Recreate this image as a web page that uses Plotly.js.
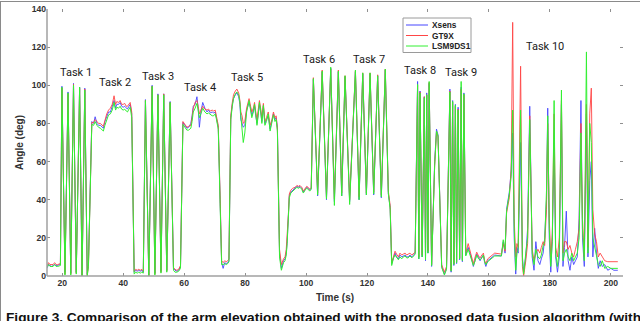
<!DOCTYPE html>
<html><head><meta charset="utf-8">
<script src="https://cdn.plot.ly/plotly-3.0.1.min.js"></script>
<style>html,body{margin:0;padding:0;background:#fff;overflow:hidden}#chart{width:640px;height:321px}</style>
</head><body><div id="chart"></div>
<script>
// Time axis (s)
const time = [
 15, 15.5, 16, 16.5, 17, 17.5, 18, 18.5, 19, 19.4,
 19.9, 20.9, 21.9, 22.8, 23.7, 24.6, 25.7, 26.5, 27.4, 28.2, 28.6, 29.7,
 30.3, 30.8, 31.4, 31.9, 32.5, 33, 33.5, 34, 34.6, 35.2, 35.8, 36.4, 37, 37.5, 37.9, 38.5, 39, 39.5, 40, 40.5, 41, 41.4, 41.9, 42.3, 42.8, 43.6,
 44.1, 44.6, 45.1, 45.6, 46.1, 46.6,
 47.3, 48.4, 49.5, 50.4, 51.4, 52.4, 53.3, 54.3, 55.4, 56.5, 57, 57.6, 58.2, 58.8, 59.6,
 60.3, 60.9, 61.5, 62.2, 62.6, 63, 63.6, 64.2, 64.6, 65, 65.5, 66.1, 66.8, 67.5, 68, 68.6, 69.2, 69.7, 70.2, 70.5, 71.2, 71.8, 72.3,
 72.8, 73.3, 73.8, 74.3, 74.7,
 75.3, 75.8, 76.2, 76.8, 77.3, 77.9, 78.3, 78.6, 79, 79.4, 79.9, 80.5, 81.3, 81.8, 82.2, 82.7, 83.1, 83.5, 83.9, 84.3, 84.7, 85.1, 85.5, 86, 86.5, 87, 87.6, 88.2, 88.8, 89.3, 89.8, 90.2, 90.6, 91.3,
 91.9, 92.6, 93.1, 93.5, 93.8, 94.2, 94.5, 95, 95.6, 96.4, 97, 97.5, 98, 98.6, 99.1, 99.7, 100.2, 100.7, 101.2, 101.7,
 102.4, 103.8, 105.3, 106.7, 108.1, 109.3, 110.6, 111.7, 112.8, 114.3, 116.2, 117.4, 118.6, 119.8, 121, 122.2, 123.5, 124.7, 126, 127, 127.6, 128.1,
 128.7, 129.2, 129.7, 130.3, 130.8, 131.4, 131.9, 132.5, 133, 133.5, 134.1, 134.7, 135.3, 135.8,
 136.6, 137, 137.4, 138.1, 138.8, 139.2, 139.6, 140, 140.4, 141.2, 142.2, 142.8, 143.3, 143.9, 144.5, 145.4, 146.1,
 147.2, 147.6, 148.1, 148.5, 149, 149.4, 149.9, 150.4, 150.9, 151.3, 151.8,
 152.4, 153.2, 154.1, 154.9, 155.5, 156, 156.6, 157.1, 157.7, 158.2, 158.6, 159, 159.6, 160.3, 161.2, 161.9, 164.1, 164.7, 165.3, 165.8, 166.7, 167.3,
 167.8, 168.3, 168.8, 169.2, 169.6, 170.4, 171, 171.4, 172.1, 172.7,
 173.4, 174.2, 174.8, 175.4, 176.1, 176.7, 177.2, 177.8, 178.3, 178.9,
 179.3, 179.8, 180.3, 180.8, 181.4, 181.9, 182.5, 183.1, 183.8, 184.3,
 184.8, 185.4, 186, 186.6, 187.2, 187.8, 188.4, 189, 189.6, 190.2,
 190.7, 191.3, 192, 192.5, 193.1, 193.6, 194.1, 194.7, 195.3, 195.9,
 196.5, 197.2, 198, 199, 200, 201, 202.3
];
// Arm elevation (deg) - Xsens
const xsens = [
 4, 6, 5.5, 5, 5.5, 6, 5.5, 5.5, 6, 6,
 99.5, 2, 96.5, 1.5, 101, 2, 99, 0.5, 98.5, 1, 7, 81,
 80, 83.5, 80, 79, 79, 78, 77.5, 81, 84, 86, 86, 89, 92, 88, 90, 90, 91, 89, 88.5, 89, 88, 87.5, 89, 90, 85, 2,
 3, 2.5, 3, 2.5, 3, 2,
 92.5, 0.5, 100, 1.5, 95.5, 2.5, 95.5, 3, 91.5, 4, 3, 2.5, 3, 5, 80.5,
 79, 77.5, 78, 80, 84, 89, 90, 94, 88, 78, 86, 91, 88, 86, 87, 85.5, 86, 85.5, 86, 84, 78, 40, 7,
 4, 7, 6.5, 7, 8,
 83, 90, 93, 95, 96, 94, 90, 82, 80, 78, 79, 87, 91, 88, 84, 87, 89, 84, 80, 85, 90, 86, 81, 89, 80, 82, 84, 77, 81, 85, 82, 83, 78, 12,
 4, 8, 9, 12, 18, 30, 42, 44, 45, 46, 47, 46.5, 47, 46, 44, 45.5, 46.5, 46, 45, 46,
 103, 42, 107, 40, 109, 39, 107, 42, 104.5, 39, 107, 40, 106, 42.5, 106, 42.5, 105, 41, 108, 43, 36, 6.5,
 10, 12, 10, 9, 11, 10, 10.5, 11, 10, 10, 11, 10, 11, 12,
 102, 9, 97, 10, 94, 8, 96, 12, 101, 5, 60, 77, 74, 40, 5, 1, 4,
 98, 2, 92, 5.5, 90, 6.5, 88.5, 8.5, 99, 7.5, 96,
 11, 15, 10.5, 5, 9, 11.5, 10, 8, 10, 11, 7, 5, 8, 9, 10.5, 11, 10.5, 18, 12, 35, 44, 55,
 75, 20, 1, 15, 12, 70, 10, 2, 10, 25,
 89, 10, 3, 18, 8, 6, 9, 12, 20, 40,
 88, 20, 2, 20, 70, 10, 2, 10, 90, 5,
 15, 34, 8, 3, 10, 6, 8, 10, 30, 92,
 20, 5, 85, 10, 50, 60, 10, 25, 12, 4,
 8, 5, 6, 3, 4, 3, 3
];
// Arm elevation (deg) - GT9X
const gt9x = [
 5, 7, 6, 6, 6, 7, 6, 6, 6.5, 6.5,
 98.5, 1, 95.5, 1, 100.5, 1.5, 98.5, 0, 98, 0.5, 5, 80.5,
 80.5, 82, 81, 80, 80, 79, 78.5, 81.5, 85, 87, 88, 90, 94.5, 90, 91.5, 91, 92, 90, 90, 90.5, 89, 89, 90, 91, 86, 2.5,
 3.5, 3, 3.5, 3, 3.5, 2.5,
 92, 0, 99.5, 1, 95, 2, 95.5, 2.5, 91, 4.5, 3.5, 3, 3.5, 5.5, 81,
 79.5, 78, 78.5, 79, 83, 88, 91, 92, 89, 85, 87, 89, 87.5, 87, 87.5, 86.5, 87, 86.5, 87, 85, 79, 42, 8,
 7, 8, 7.5, 8, 9,
 84, 91, 95, 97, 98, 96, 92, 86, 84, 80, 81, 88, 93, 89, 86, 88, 91, 86, 82, 87, 92, 88, 83, 90.5, 81, 83, 86, 79, 82, 86, 83, 84, 77, 14,
 6, 9, 10, 14, 20, 32, 43, 45, 46, 46.5, 47.5, 47, 47.5, 46.5, 44.5, 46, 47, 46.5, 45.5, 46.5,
 104, 43.5, 108, 41.5, 108.5, 40.5, 108, 43.5, 105, 40, 107.5, 41.5, 106.5, 43.5, 106.5, 44, 105.5, 42.5, 108.5, 44.5, 37, 7,
 11, 13, 11.5, 10, 12, 11, 11.5, 12, 11, 11.5, 12, 11, 12, 12.5,
 100, 10, 96.5, 11, 94, 9, 95, 13, 101.5, 6, 58, 75.5, 73, 42, 6, 2, 5,
 97, 3, 91, 6.5, 89, 7.5, 87.5, 9.5, 98, 8.5, 95,
 12, 17, 12, 6.5, 10, 12.5, 10.5, 9.5, 11, 12, 8, 6.5, 9, 10, 11.5, 12, 11.5, 17, 13, 33, 41, 56,
 133, 30, 10, 17, 15, 110, 5, 0, 8, 17,
 84, 14, 8, 12, 14, 12, 15, 18, 16, 35,
 80, 30, 10, 22, 85, 15, 10, 20, 92, 12,
 18, 18, 14, 16, 12, 10, 14, 18, 25, 80,
 30, 10, 90, 15, 85, 98.5, 35, 22, 18, 10,
 12, 10, 8, 7.5, 7.5, 7.5, 7.5
];
// Arm elevation (deg) - LSM9DS1
const lsm9ds1 = [
 4.5, 6, 5, 5, 5, 6, 5, 5, 5.5, 5.5,
 99, 0.5, 96, 0.5, 100, 1, 99, 0, 97.5, 0, 5, 79.5,
 79, 81, 79, 78, 77.5, 76.5, 76, 79, 82, 84.5, 85, 87, 91, 87, 88.5, 88, 89, 87.5, 87, 87.5, 86.5, 86, 87.5, 88.5, 83, 1,
 2, 1.5, 2, 1.5, 2, 1.5,
 92, 0, 99.5, 0.5, 95, 1.5, 95, 2, 91, 3, 2, 2, 2.5, 4, 79.5,
 78, 76.5, 76.5, 77.5, 81, 86, 88, 90.5, 87, 83, 85, 88, 86, 85, 85.5, 84.5, 84, 84, 85, 83, 77, 38, 6,
 6, 6.5, 6, 6.5, 7.5,
 82, 89, 93, 95.5, 96.5, 95, 91, 84, 76, 70, 75, 86, 92, 88, 83, 86, 90, 85, 79, 84, 91, 87, 80, 89.5, 79, 81, 85, 76, 80, 84.5, 81, 82, 76, 10,
 3, 7, 8, 11, 17, 28, 41, 43.5, 44.5, 45.5, 46.5, 46, 46.5, 45.5, 43.5, 45, 46, 45.5, 44.5, 45.5,
 103.5, 42.5, 107.5, 40.5, 109.5, 37, 107.5, 42, 105, 37.5, 108, 40, 106.5, 42.5, 106.5, 43, 105, 41.5, 108.5, 43.5, 35, 5.5,
 9.5, 11, 9.5, 8.5, 10, 9, 10, 10.5, 9.5, 9.5, 10.5, 9.5, 10.5, 11.5,
 100.5, 9, 96, 10, 93.5, 8.5, 95, 12, 102, 5.5, 58, 76, 73.5, 41, 4.5, 0.5, 3.5,
 96.5, 2.5, 91.5, 6, 89.5, 7, 87, 9, 102, 8, 95.5,
 10.5, 14, 10, 5.5, 8, 11, 9, 8.5, 9.5, 11, 7.5, 6, 7.5, 8.5, 10, 10.5, 10.5, 19, 14, 34, 43, 52,
 87, 25, 3, 12, 14, 87, 8, 1, 12, 20,
 82, 12, 6, 14, 10, 9, 11, 16, 18, 45,
 84, 25, 5, 18, 92, 12, 5, 14, 97.5, 8,
 12, 14, 10, 8, 12, 8, 10, 12, 20, 75,
 25, 8, 117.5, 12, 80, 70, 20, 15, 10, 6,
 5, 8, 4, 5, 4, 4, 4
];
const seriesNames = ['Xsens', 'GT9X', 'LSM9DS1'];
const xTickVals = [20, 40, 60, 80, 100, 120, 140, 160, 180, 200];
const yTickVals = [0, 20, 40, 60, 80, 100, 120, 140];
const taskLabels = ['Task 1', 'Task 2', 'Task 3', 'Task 4', 'Task 5', 'Task 6', 'Task 7', 'Task 8', 'Task 9', 'Task 10'];
const taskTime = [24.4, 37.4, 51.5, 65.2, 80.7, 104.3, 120.7, 137.4, 150.8, 178.4];
const taskAngle = [106.5, 101.5, 104.5, 99, 104.3, 113.3, 113.3, 107.8, 106.8, 120.2];
const captionText = 'Figure 3. Comparison of the arm elevation obtained with the proposed data fusion algorithm (with';

const colors = ['rgb(70,70,255)', 'rgb(255,70,70)', 'rgb(50,240,50)'];
const opac = [0.9, 0.9, 1];
const seriesData = [xsens, gt9x, lsm9ds1];
const traces = seriesData.map((ys, i) => ({
  type: 'scatter', mode: 'lines', x: time, y: ys, name: seriesNames[i],
  line: {color: colors[i], width: 1}, opacity: opac[i], showlegend: false, hoverinfo: 'skip'
}));

const L = 47, R = 623, T = 9, B = 276;
const px = v => (v - L) / (R - L);
const py = v => (B - v) / (B - T);
const annotations = taskLabels.map((s, i) => ({
  text: s, x: taskTime[i], y: taskAngle[i], xref: 'x', yref: 'y', showarrow: false,
  font: {family: 'Roboto', size: 11, color: '#1a1a1a'}
}));
const legendY = [25, 35.5, 46];
const shapes = [
  {type: 'line', xref: 'paper', yref: 'paper', x0: 0, x1: 1, y0: 0, y1: 0, line: {color: '#a0a0a0', width: 1.5}},
  {type: 'line', xref: 'paper', yref: 'paper', x0: 0, x1: 0, y0: 0, y1: 1, line: {color: '#a0a0a0', width: 1.5}},
  {type: 'line', xref: 'paper', yref: 'paper', x0: px(0.5), x1: px(0.5), y0: py(321), y1: py(1), line: {color: '#8a8a8a', width: 1}},
  {type: 'line', xref: 'paper', yref: 'paper', x0: px(0), x1: px(640), y0: py(1.5), y1: py(1.5), line: {color: '#8a8a8a', width: 1}},
  {type: 'rect', xref: 'paper', yref: 'paper', x0: px(403), x1: px(471), y0: py(52.5), y1: py(18), line: {color: '#9a9a9a', width: 1}, fillcolor: 'white'}
];
seriesNames.forEach((n, i) => {
  shapes.push({type: 'line', xref: 'paper', yref: 'paper', x0: px(406), x1: px(428), y0: py(legendY[i]), y1: py(legendY[i]), line: {color: colors[i], width: 1}});
  annotations.push({text: n, xref: 'paper', yref: 'paper', x: px(429.5), y: py(legendY[i]), xanchor: 'left', yanchor: 'middle', showarrow: false,
    font: {family: 'Liberation Sans', size: 8.3, weight: 'bold', color: '#222'}});
});
annotations.push({text: captionText, xref: 'paper', yref: 'paper', x: px(4), y: py(307.5), xanchor: 'left', yanchor: 'top', showarrow: false,
  font: {family: 'Liberation Sans', size: 13.7, weight: 'bold', color: '#111'}});

const axisFont = {family: 'Liberation Sans', size: 8.6, weight: 'bold', color: '#333'};
const layout = {
  width: 640, height: 321,
  margin: {l: L, r: 640 - R, t: T, b: 321 - B, pad: 0},
  paper_bgcolor: 'white', plot_bgcolor: 'white',
  showlegend: false,
  xaxis: {range: [15, 204], tickvals: xTickVals, ticks: 'inside', ticklen: 3, tickwidth: 1, tickcolor: '#909090',
    showline: false, mirror: 'ticks', showgrid: false, zeroline: false, tickfont: axisFont,
    title: {text: 'Time (s)', font: {family: 'Liberation Sans', size: 10, weight: 'bold', color: '#333'}, standoff: 7}},
  yaxis: {range: [0, 140], tickvals: yTickVals, ticks: 'inside', ticklen: 3, tickwidth: 1, tickcolor: '#909090',
    showline: false, mirror: 'ticks', showgrid: false, zeroline: false, tickfont: axisFont,
    title: {text: 'Angle (deg)', font: {family: 'Liberation Sans', size: 10, weight: 'bold', color: '#333'}, standoff: 6}},
  shapes: shapes, annotations: annotations
};
Plotly.newPlot('chart', traces, layout, {staticPlot: true, displayModeBar: false});
</script></body></html>
